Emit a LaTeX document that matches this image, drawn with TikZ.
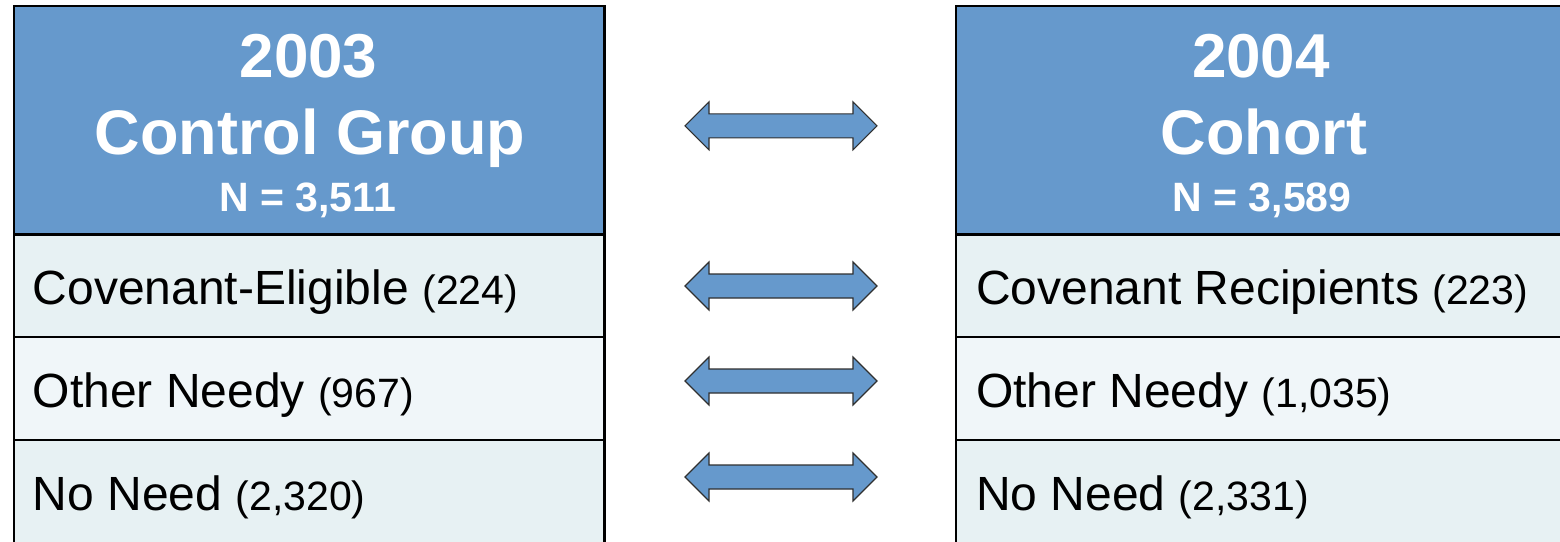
\documentclass[tikz,border=0pt]{standalone}
\usepackage{fontspec}
\setmainfont{Liberation Sans}
\definecolor{hdrblue}{HTML}{6699CC}
\definecolor{rowa}{HTML}{E7F1F3}
\definecolor{rowb}{HTML}{F0F6F9}
\definecolor{arrline}{HTML}{303030}
\begin{document}
\begin{tikzpicture}[x=1pt,y=-1pt,
  cell/.style={draw=black,line width=2.4pt,rectangle,inner sep=0pt},
  lcell/.style={cell,minimum width=590.8pt},
  rcell/.style={cell,minimum width=612pt},
  hdrtxt/.style={text=white,font=\bfseries,inner sep=0pt,anchor=base},
  rowtxt/.style={text=black,inner sep=0pt,anchor=base west},
  barrow/.style={fill=hdrblue,draw=arrline,line width=1.1pt,line join=miter}]
\useasboundingbox (0,0) rectangle (1560,541);
% left table
\node[lcell,fill=hdrblue,minimum height=228.1pt] (Lh) at (309.1,120.25) {};
\node[lcell,fill=rowa,minimum height=102.7pt] (L1) at (309.1,285.65) {};
\node[lcell,fill=rowb,minimum height=103pt] (L2) at (309.1,388.5) {};
\node[lcell,fill=rowa,minimum height=106pt] (L3) at (309.1,493) {};
% right table
\node[rcell,fill=hdrblue,minimum height=228.1pt] (Rh) at (1262,120.25) {};
\node[rcell,fill=rowa,minimum height=102.7pt] (R1) at (1262,285.65) {};
\node[rcell,fill=rowb,minimum height=103pt] (R2) at (1262,388.5) {};
\node[rcell,fill=rowa,minimum height=106pt] (R3) at (1262,493) {};
% header texts
\node[hdrtxt,font=\bfseries\fontsize{62}{70}\selectfont] (Lt1) at (308.5,77) {2003};
\node[hdrtxt,font=\bfseries\fontsize{63}{70}\selectfont] (Lt2) at (310,154) {Control Group};
\node[hdrtxt,font=\bfseries\fontsize{41}{48}\selectfont] (Lt3) at (307.5,211) {N = 3,511};
\node[hdrtxt,font=\bfseries\fontsize{62}{70}\selectfont] (Rt1) at (1261,77) {2004};
\node[hdrtxt,font=\bfseries\fontsize{63}{70}\selectfont] (Rt2) at (1264,154) {Cohort};
\node[hdrtxt,font=\bfseries\fontsize{41}{48}\selectfont] (Rt3) at (1262,211) {N = 3,589};
% row texts
\node[rowtxt,font=\fontsize{48}{58}\selectfont] (Lr1) at (32.6,304.5) {Covenant-Eligible {\fontsize{41}{48}\selectfont (224)}};
\node[rowtxt,font=\fontsize{48}{58}\selectfont] (Lr2) at (32.6,407.5) {Other Needy {\fontsize{41}{48}\selectfont (967)}};
\node[rowtxt,font=\fontsize{48}{58}\selectfont] (Lr3) at (32.6,510.5) {No Need {\fontsize{41}{48}\selectfont (2,320)}};
\node[rowtxt,font=\fontsize{48}{58}\selectfont] (Rr1) at (976,304.5) {Covenant Recipients {\fontsize{41}{48}\selectfont (223)}};
\node[rowtxt,font=\fontsize{48}{58}\selectfont] (Rr2) at (976,407.5) {Other Needy {\fontsize{41}{48}\selectfont (1,035)}};
\node[rowtxt,font=\fontsize{48}{58}\selectfont] (Rr3) at (976,510.5) {No Need {\fontsize{41}{48}\selectfont (2,331)}};
% double block arrows
\foreach \yc/\nm in {125.8/a0,286/a1,381/a2,477/a3}{
  \draw[barrow] (685,\yc) -- (709,\yc-24) -- (709,\yc-12) -- (853,\yc-12) -- (853,\yc-24)
    -- (877,\yc) -- (853,\yc+24) -- (853,\yc+12) -- (709,\yc+12) -- (709,\yc+24) -- cycle;
  \coordinate (\nm) at (781,\yc);
}
\end{tikzpicture}
\end{document}
